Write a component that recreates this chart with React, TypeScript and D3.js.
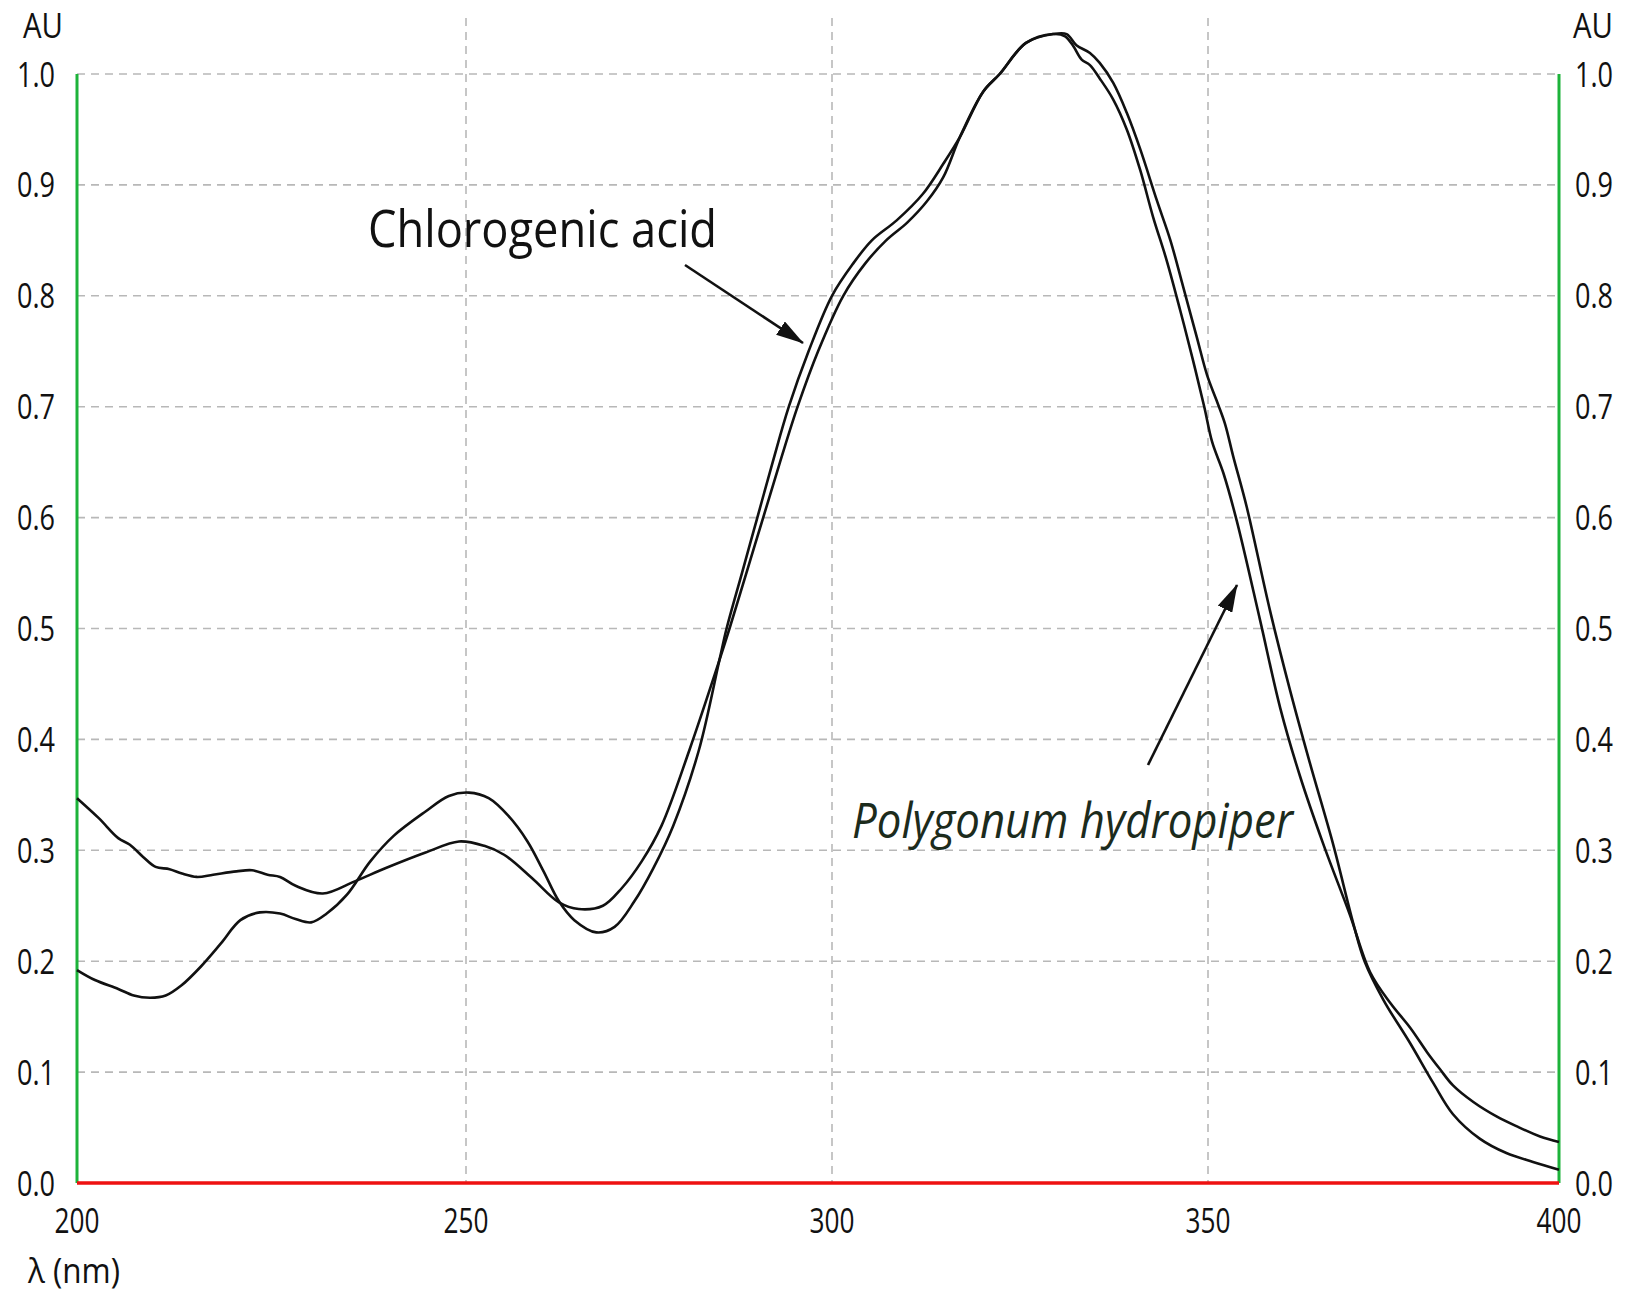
import React from 'react';
import * as d3 from 'd3';

// UV spectra, wavelength (nm) vs absorbance (AU)
const hydropiperSpectrum: [number, number][] = [
  [200, 0.347], [202.8, 0.329], [205.3, 0.311], [206.8, 0.305], [208.5, 0.294],
  [210.1, 0.285], [211.9, 0.283], [213.5, 0.279], [215.4, 0.276], [217.5, 0.278],
  [220.5, 0.281], [222.5, 0.282], [224.5, 0.278], [226.1, 0.276], [228.1, 0.268],
  [231.6, 0.261], [235.7, 0.272], [239.7, 0.284], [244.8, 0.298], [249.1, 0.308],
  [252.5, 0.304], [255.2, 0.296], [259.0, 0.275], [262.7, 0.253], [265.4, 0.247],
  [268.7, 0.25], [271.3, 0.266], [274.0, 0.29], [276.7, 0.322], [280.5, 0.39],
  [284.6, 0.471], [286.0, 0.5], [288.3, 0.55], [290.6, 0.6], [292.9, 0.65],
  [295.3, 0.7], [298.1, 0.75], [301.5, 0.8], [304.4, 0.829], [307.2, 0.85],
  [310.0, 0.866], [312.6, 0.885], [314.8, 0.907], [317.0, 0.943], [320.1, 0.984],
  [322.3, 1.0], [325.8, 1.028], [329.4, 1.036], [331.0, 1.034], [332.1, 1.025],
  [333.2, 1.013], [334.3, 1.008], [335.6, 0.996], [337.4, 0.977], [339.2, 0.95],
  [341.0, 0.913], [342.7, 0.871], [344.5, 0.832], [346.3, 0.787], [348.0, 0.742],
  [349.5, 0.7], [350.6, 0.668], [352.2, 0.64], [354.1, 0.597], [357.4, 0.508],
  [360.3, 0.428], [363.1, 0.367], [366.4, 0.306], [370.2, 0.242], [373.1, 0.19],
  [376.0, 0.162], [378.8, 0.14], [381.2, 0.118], [383.0, 0.103], [384.9, 0.088],
  [387.8, 0.073], [391.1, 0.06], [394.0, 0.051], [397.3, 0.042], [400, 0.037],
];

const chlorogenicSpectrum: [number, number][] = [
  [200, 0.192], [202.3, 0.183], [205.3, 0.175], [207.3, 0.169], [209.4, 0.167],
  [211.4, 0.169], [213.4, 0.178], [215.9, 0.195], [218.5, 0.216], [221.0, 0.237],
  [223.5, 0.244], [226.1, 0.243], [228.1, 0.238], [230.1, 0.235], [232.1, 0.243],
  [234.7, 0.26], [237.7, 0.29], [240.7, 0.313], [244.8, 0.335], [247.8, 0.349],
  [250.4, 0.352], [253.1, 0.347], [255.8, 0.331], [258.4, 0.308], [260.6, 0.281],
  [262.7, 0.254], [264.8, 0.237], [267.8, 0.226], [270.3, 0.231], [273.0, 0.254],
  [275.6, 0.284], [278.3, 0.322], [281.8, 0.39], [284.6, 0.471], [285.6, 0.5],
  [287.7, 0.55], [289.8, 0.6], [291.9, 0.65], [294.1, 0.7], [296.8, 0.75],
  [300.0, 0.8], [302.8, 0.829], [305.3, 0.85], [308.6, 0.868], [312.1, 0.892],
  [314.8, 0.919], [317.0, 0.943], [320.1, 0.984], [322.3, 1.0], [325.8, 1.028],
  [329.4, 1.036], [331.2, 1.036], [332.5, 1.026], [334.3, 1.019], [335.6, 1.01],
  [337.4, 0.992], [339.2, 0.965], [341.0, 0.932], [343.2, 0.886], [345.0, 0.85],
  [346.7, 0.808], [348.5, 0.763], [349.9, 0.728], [351.2, 0.706], [352.4, 0.685],
  [353.6, 0.655], [355.5, 0.61], [358.8, 0.517], [361.7, 0.444], [364.5, 0.379],
  [367.8, 0.306], [370.7, 0.234], [372.3, 0.2], [375.0, 0.165], [378.8, 0.126],
  [382.1, 0.09], [384.9, 0.062], [388.7, 0.04], [392.5, 0.027], [396.3, 0.019],
  [400, 0.012],
];

const xTicks = [200, 250, 300, 350, 400];
const yTicks = [0, 0.1, 0.2, 0.3, 0.4, 0.5, 0.6, 0.7, 0.8, 0.9, 1.0];

export default function App() {
  const W = 1626;
  const H = 1300;
  const left = 77;
  const right = 1559;
  const top = 74;
  const bottom = 1183;

  // the instrument's wavelength axis is not quite evenly spaced
  const x = d3.scaleLinear().domain(xTicks).range([left, 466, 832, 1208, right]);
  const y = d3.scaleLinear().domain([0, 1]).range([bottom, top]);

  const line = d3.line<[number, number]>()
    .x(d => x(d[0]))
    .y(d => y(d[1]))
    .curve(d3.curveCatmullRom.alpha(0.5));

  const font = "'Open Sans', 'Noto Sans', sans-serif";
  const gridStyle = { stroke: '#b8b8b8', strokeWidth: 1.6, strokeDasharray: '8,6' };

  return (
    <svg width={W} height={H} style={{ position: 'absolute', left: 0, top: 0, background: '#fff' }}>
      <defs>
        <marker id="head" viewBox="0 0 28 16" refX="27" refY="8" markerWidth="28" markerHeight="16"
          markerUnits="userSpaceOnUse" orient="auto">
          <path d="M0,0 L28,8 L0,16 Z" fill="#111" />
        </marker>
      </defs>

      {/* grid */}
      {yTicks.filter(t => t > 0).map(t => (
        <line key={'gy' + t} x1={left} x2={right} y1={y(t)} y2={y(t)} {...gridStyle} />
      ))}
      {xTicks.slice(1, -1).map(t => (
        <line key={'gx' + t} x1={x(t)} x2={x(t)} y1={18} y2={bottom} {...gridStyle} />
      ))}

      {/* axes */}
      <line x1={left} x2={left} y1={top} y2={bottom} stroke="#1db33a" strokeWidth={3} />
      <line x1={right} x2={right} y1={top} y2={bottom} stroke="#1db33a" strokeWidth={3} />
      <line x1={left} x2={right} y1={bottom} y2={bottom} stroke="#ee1111" strokeWidth={3.5} />

      {/* tick labels */}
      {yTicks.map(t => (
        <g key={'ly' + t} fontFamily={font} fontSize={35} fill="#111">
          <text x={17} y={y(t) + 12.5} textLength={38} lengthAdjust="spacingAndGlyphs">{t.toFixed(1)}</text>
          <text x={1575} y={y(t) + 12.5} textLength={38} lengthAdjust="spacingAndGlyphs">{t.toFixed(1)}</text>
        </g>
      ))}
      {xTicks.map(t => (
        <text key={'lx' + t} x={x(t) - 22.5} y={1233} fontFamily={font} fontSize={35} fill="#111"
          textLength={45} lengthAdjust="spacingAndGlyphs">{t}</text>
      ))}
      <text x={23} y={38} fontFamily={font} fontSize={35} fill="#111" textLength={40} lengthAdjust="spacingAndGlyphs">AU</text>
      <text x={1573} y={38} fontFamily={font} fontSize={35} fill="#111" textLength={40} lengthAdjust="spacingAndGlyphs">AU</text>
      <text x={28} y={1283} fontFamily={font} fontSize={35} fill="#111" textLength={92} lengthAdjust="spacingAndGlyphs">λ (nm)</text>

      {/* spectra */}
      <path d={line(hydropiperSpectrum) ?? ''} fill="none" stroke="#111" strokeWidth={2.6} />
      <path d={line(chlorogenicSpectrum) ?? ''} fill="none" stroke="#111" strokeWidth={2.6} />

      {/* annotations */}
      <text x={368} y={247} fontFamily={font} fontSize={52} fill="#111" textLength={349} lengthAdjust="spacingAndGlyphs">
        Chlorogenic acid
      </text>
      <line x1={685} y1={265} x2={803} y2={343} stroke="#111" strokeWidth={2.6} markerEnd="url(#head)" />

      <text x={852} y={838} fontFamily={font} fontSize={50} fontStyle="italic" fill="#1c2b1c" textLength={441} lengthAdjust="spacingAndGlyphs">
        Polygonum hydropiper
      </text>
      <line x1={1148} y1={765} x2={1237} y2={585} stroke="#111" strokeWidth={2.6} markerEnd="url(#head)" />
    </svg>
  );
}
